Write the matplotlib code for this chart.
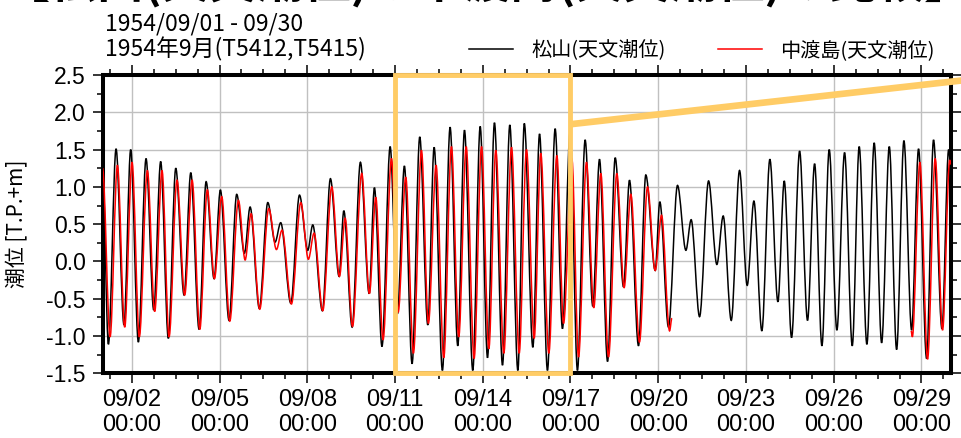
import matplotlib
matplotlib.use("Agg")
import matplotlib.pyplot as plt
import matplotlib.dates as mdates
from matplotlib.ticker import MultipleLocator, AutoMinorLocator
from matplotlib.patches import Rectangle, PathPatch
from matplotlib.lines import Line2D
from matplotlib.path import Path
import numpy as np

JP = ['Noto Sans CJK JP', 'DejaVu Sans']
NUM = ['Liberation Sans', 'DejaVu Sans']
ORANGE = '#FFCC66'

start = np.datetime64('1954-09-01T00:00')

# 松山(天文潮位): 満潮・干潮の時刻 [09/01 00:00 からの時間] と潮位 [T.P.+m]
matsuyama_h = [
    0.0, 4.8, 11.1, 17.6, 23.1, 29.4, 35.7, 42.0, 47.7, 54.0,
    60.1, 66.9, 72.4, 79.2, 85.0, 91.5, 96.7, 103.8, 110.1, 116.4,
    121.1, 128.7, 135.6, 141.6, 146.2, 154.5, 161.6, 168.4, 172.5, 180.4,
    187.0, 194.1, 198.0, 204.8, 211.6, 218.8, 223.1, 229.3, 236.0, 242.0,
    247.7, 254.0, 260.3, 266.9, 272.1, 278.9, 285.2, 291.5, 297.0, 303.8,
    309.9, 315.9, 321.6, 328.2, 334.2, 340.8, 346.1, 353.1, 358.6, 365.1,
    371.4, 377.4, 383.7, 389.7, 396.0, 402.3, 407.8, 414.4, 420.7, 427.5,
    432.4, 439.8, 445.8, 453.5, 457.3, 464.4, 471.8, 478.7, 483.0, 489.9,
    497.3, 504.1, 509.3, 515.9, 522.7, 529.0, 534.5, 541.0, 547.6, 554.2,
    559.4, 565.4, 572.0, 578.5, 584.3, 590.3, 596.3, 602.6, 608.9, 615.2,
    620.9, 627.2, 633.2, 639.3, 645.6, 651.6, 657.6, 663.9, 669.6, 676.2,
    681.9, 688.8, 694.3, 696.0,
]
matsuyama_m = [
    1.30, -1.11, 1.51, -0.85, 1.50, -1.08, 1.38, -0.65, 1.34, -1.03,
    1.25, -0.45, 1.19, -0.91, 1.07, -0.23, 0.96, -0.79, 0.90, 0.11,
    0.73, -0.63, 0.79, 0.26, 0.52, -0.56, 0.89, 0.15, 0.49, -0.66,
    1.11, -0.20, 0.68, -0.88, 1.33, -0.43, 0.99, -1.14, 1.54, -0.70,
    1.28, -1.37, 1.67, -0.85, 1.53, -1.46, 1.80, -1.13, 1.76, -1.46,
    1.81, -1.29, 1.86, -1.39, 1.83, -1.46, 1.85, -1.15, 1.71, -1.46,
    1.78, -0.90, 1.74, -1.46, 1.63, -0.60, 1.37, -1.34, 1.39, -0.34,
    1.09, -1.13, 1.16, -0.12, 0.80, -0.88, 1.02, 0.15, 0.56, -0.74,
    1.08, -0.04, 0.61, -0.79, 1.22, -0.32, 0.81, -0.93, 1.37, -0.54,
    1.08, -1.02, 1.48, -0.79, 1.31, -1.13, 1.50, -0.92, 1.46, -1.13,
    1.54, -1.11, 1.59, -1.09, 1.54, -1.18, 1.62, -0.92, 1.51, -1.30,
    1.63, -0.90, 1.50, 1.30,
]

# 中渡島(天文潮位): 09/20 で一度途切れ、09/28 から再開
nakatoshima_h = [
    0.0, 6.2, 12.2, 18.2, 24.2, 30.2, 36.8, 42.8, 48.8, 54.6,
    61.1, 67.4, 73.5, 79.8, 86.0, 91.8, 97.8, 104.4, 111.5, 117.0,
    121.9, 129.0, 136.4, 142.7, 147.3, 155.0, 162.7, 168.9, 173.6, 180.7,
    188.1, 194.4, 199.1, 205.1, 212.7, 219.0, 224.2, 230.2, 237.1, 242.6,
    248.8, 255.1, 261.7, 267.4, 273.7, 280.0, 286.3, 292.3, 298.4, 304.9,
    311.0, 317.0, 322.7, 329.3, 335.6, 341.9, 347.9, 354.2, 359.6, 366.2,
    372.8, 378.3, 385.1, 390.6, 397.1, 403.1, 408.9, 415.2, 422.0, 428.0,
    433.5, 440.6, 447.2, 453.5, 458.7, 465.3, 467.2,
]
nakatoshima_m = [
    1.25, -1.01, 1.29, -0.88, 1.33, -1.01, 1.22, -0.67, 1.22, -1.01,
    1.09, -0.45, 1.09, -0.91, 0.96, -0.23, 0.87, -0.80, 0.82, 0.02,
    0.64, -0.64, 0.71, 0.16, 0.42, -0.57, 0.79, 0.03, 0.38, -0.66,
    1.00, -0.20, 0.58, -0.87, 1.18, -0.43, 0.86, -1.05, 1.38, -0.68,
    1.13, -1.23, 1.49, -0.83, 1.29, -1.29, 1.54, -1.01, 1.54, -1.30,
    1.54, -1.17, 1.49, -1.23, 1.53, -1.23, 1.50, -1.03, 1.45, -1.23,
    1.42, -0.83, 1.38, -1.28, 1.33, -0.62, 1.18, -1.28, 1.18, -0.35,
    0.90, -1.08, 1.00, -0.12, 0.62, -0.93, -0.76,
]
nakatoshima2_h = [663.5, 664.5, 670.7, 677.0, 683.3, 689.3, 695.2, 696.0]
nakatoshima2_m = [-0.93, -1.01, 1.33, -1.31, 1.38, -0.92, 1.36, 1.30]

# 拡大範囲 (09/11〜09/17) と引き出し線の端点
zoom_from = np.datetime64('1954-09-11T00:00')
zoom_to = np.datetime64('1954-09-17T00:00')
leader_end = np.datetime64('1954-09-30T16:30')
leader_y = [1.84, 2.44]


def to_num(hours):
    minutes = np.round(np.asarray(hours) * 60).astype(np.int64)
    return mdates.date2num(start + minutes.astype('timedelta64[m]'))


def tide_path(*segments):
    # 満潮・干潮の点を水平な接線でつなぐ3次ベジェ曲線
    verts, codes = [], []
    for hours, level in segments:
        x = to_num(hours)
        y = np.asarray(level, dtype=float)
        verts.append((x[0], y[0]))
        codes.append(Path.MOVETO)
        for i in range(len(x) - 1):
            dx = (x[i + 1] - x[i]) / 3
            verts += [(x[i] + dx, y[i]), (x[i + 1] - dx, y[i + 1]),
                      (x[i + 1], y[i + 1])]
            codes += [Path.CURVE4] * 3
    return Path(verts, codes)


plt.rcParams['axes.unicode_minus'] = False

fig = plt.figure(figsize=(9.61, 4.38), dpi=100)
ax = fig.add_axes([0.1067, 0.1475, 0.8826, 0.6813])

ax.add_patch(PathPatch(tide_path((matsuyama_h, matsuyama_m)), fill=False,
                       ec='black', lw=1.1, zorder=3))
ax.add_patch(PathPatch(tide_path((nakatoshima_h, nakatoshima_m),
                                 (nakatoshima2_h, nakatoshima2_m)),
                       fill=False, ec='red', lw=1.1, zorder=3))

ax.set_xlim(np.datetime64('1954-09-01T00:00'), np.datetime64('1954-09-30T00:00'))
ax.set_ylim(-1.5, 2.5)

ax.xaxis.set_major_locator(mdates.DayLocator(bymonthday=range(2, 31, 3)))
ax.xaxis.set_major_formatter(mdates.DateFormatter('%m/%d\n%H:%M'))
ax.xaxis.set_minor_locator(AutoMinorLocator(4))
ax.yaxis.set_major_locator(MultipleLocator(0.5))
ax.yaxis.set_minor_locator(MultipleLocator(0.25))
ax.yaxis.set_major_formatter(plt.FormatStrFormatter('%.1f'))

ax.grid(True, which='major', color='#c0c0c0', lw=1.0, zorder=0)
ax.set_axisbelow(True)
for s in ax.spines.values():
    s.set_linewidth(2.9)
ax.tick_params(which='both', direction='out', top=True, right=True, width=1.1)
ax.tick_params(which='major', length=7)
ax.tick_params(which='minor', length=4.5)
ax.tick_params(axis='x', which='major', pad=4)
ax.tick_params(axis='y', which='major', pad=5)
for lab in ax.get_xticklabels():
    lab.set_family(NUM)
    lab.set_fontsize(17)
for lab in ax.get_yticklabels():
    lab.set_family(NUM)
    lab.set_fontsize(16.5)

ax.set_ylabel('潮位 [T.P.+m]', family=JP, fontsize=15)
ax.yaxis.set_label_coords(-0.0879, 0.5)

# 拡大範囲の枠と引き出し線
x0 = mdates.date2num(zoom_from)
x1 = mdates.date2num(zoom_to)
ax.add_patch(Rectangle((x0, -1.5), x1 - x0, 4.0, fill=False, ec=ORANGE,
                       lw=3.5, clip_on=False, zorder=6))
ax.plot([x1, mdates.date2num(leader_end)], leader_y, color=ORANGE, lw=4.8,
        solid_capstyle='butt', clip_on=False, zorder=6)

handles = [Line2D([], [], color='black', lw=1.1),
           Line2D([], [], color='red', lw=1.1)]
ax.legend(handles, ['松山(天文潮位)', '中渡島(天文潮位)'],
          loc='center right', bbox_to_anchor=(935 / 961, 1 - 51 / 438),
          bbox_transform=fig.transFigure, ncol=2, frameon=False,
          prop={'family': JP, 'size': 14.5}, handlelength=2.2,
          handletextpad=0.9, columnspacing=2.6, borderpad=0, borderaxespad=0)

fig.text(487 / 961, 1 + 1.5 / 438, '【松山(天文潮位)と中渡島(天文潮位)の比較】',
         family=JP, fontsize=34, fontweight='bold', ha='center', va='baseline')
fig.text(105 / 961, 1 - 30.7 / 438, '1954/09/01 - 09/30', family=JP,
         fontsize=16.5, ha='left', va='baseline')
fig.text(105 / 961, 1 - 56 / 438, '1954年9月(T5412,T5415)', family=JP,
         fontsize=16.5, ha='left', va='baseline')

fig.savefig('out.png', dpi=100)
